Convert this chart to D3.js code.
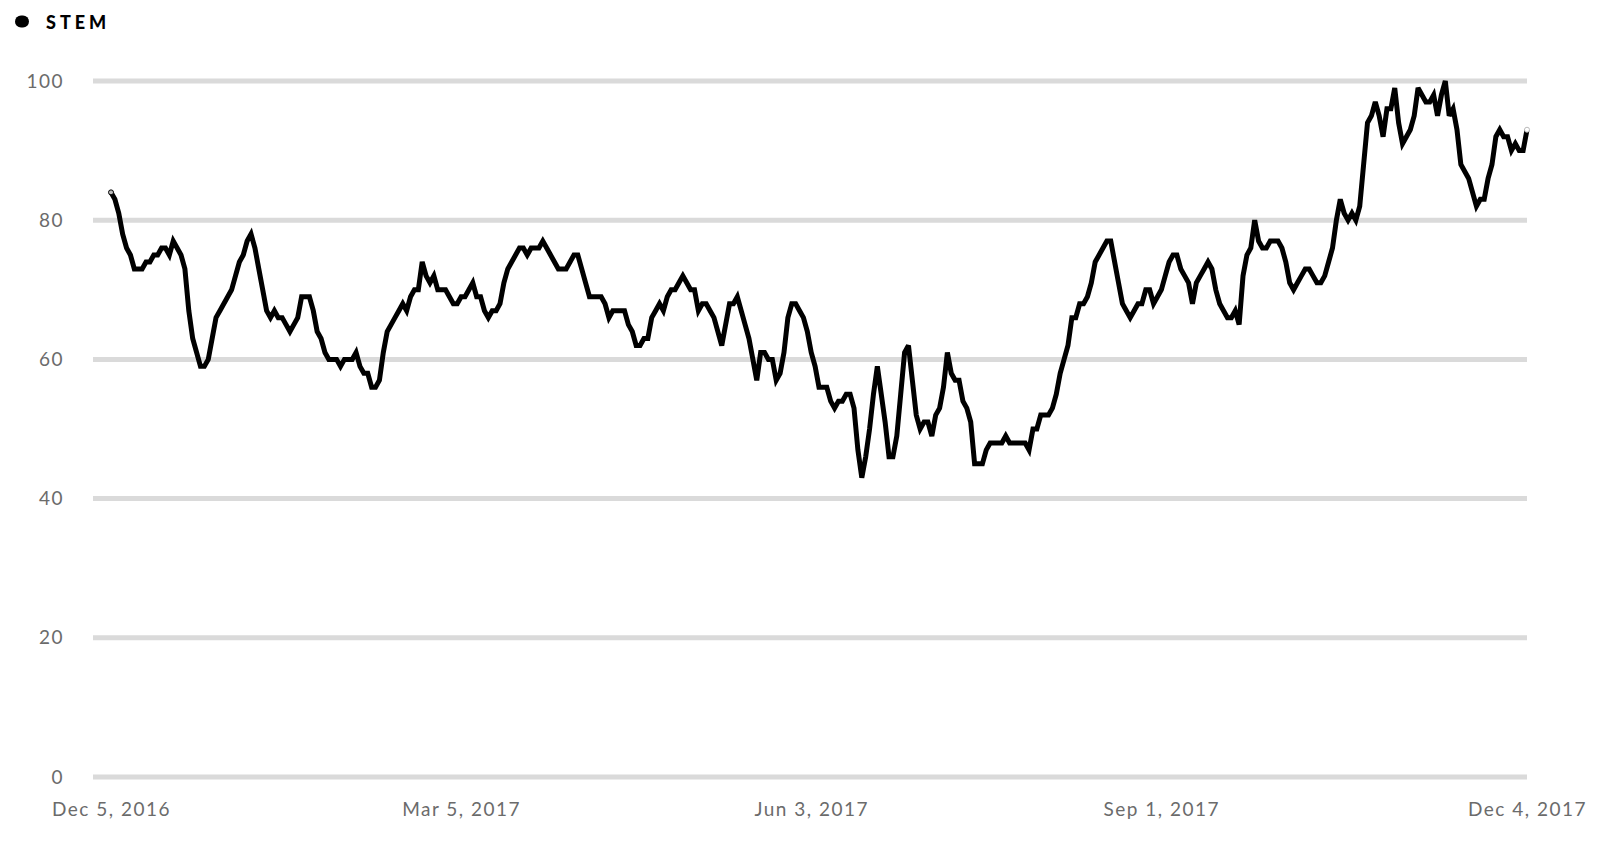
<!DOCTYPE html>
<html>
<head>
<meta charset="utf-8">
<script src="https://cdnjs.cloudflare.com/ajax/libs/d3/7.8.5/d3.min.js"></script>
<style>
  html, body { margin: 0; padding: 0; background: #fff; }
  svg { display: block; }
  text { font-family: Lato, "Open Sans", sans-serif; }
</style>
</head>
<body>
<svg id="chart" width="1612" height="842"></svg>
<script>
// ---- data (daily search interest) ----
const seriesName = "STEM";
const startDate = "2016-12-05";
const values = [
  84,83,81,78,76,75,73,73,73,74,
  74,75,75,76,76,75,77,76,75,73,
  67,63,61,59,59,60,63,66,67,68,
  69,70,72,74,75,77,78,76,73,70,
  67,66,67,66,66,65,64,65,66,69,
  69,69,67,64,63,61,60,60,60,59,
  60,60,60,61,59,58,58,56,56,57,
  61,64,65,66,67,68,67,69,70,70,
  74,72,71,72,70,70,70,69,68,68,
  69,69,70,71,69,69,67,66,67,67,
  68,71,73,74,75,76,76,75,76,76,
  76,77,76,75,74,73,73,73,74,75,
  75,73,71,69,69,69,69,68,66,67,
  67,67,67,65,64,62,62,63,63,66,
  67,68,67,69,70,70,71,72,71,70,
  70,67,68,68,67,66,64,62,65,68,
  68,69,67,65,63,60,57,61,61,60,
  60,57,58,61,66,68,68,67,66,64,
  61,59,56,56,56,54,53,54,54,55,
  55,53,47,43,46,50,55,59,55,51,
  46,46,49,55,61,62,57,52,50,51,
  51,49,52,53,56,61,58,57,57,54,
  53,51,45,45,45,47,48,48,48,48,
  49,48,48,48,48,48,47,50,50,52,
  52,52,53,55,58,60,62,66,66,68,
  68,69,71,74,75,76,77,77,74,71,
  68,67,66,67,68,68,70,70,68,69,
  70,72,74,75,75,73,72,71,68,71,
  72,73,74,73,70,68,67,66,66,67,
  65,72,75,76,80,77,76,76,77,77,
  77,76,74,71,70,71,72,73,73,72,
  71,71,72,74,76,80,83,81,80,81,
  80,82,88,94,95,97,95,92,96,96,
  99,94,91,92,93,95,99,98,97,97,
  98,95,98,100,95,96,93,88,87,86,
  84,82,83,83,86,88,92,93,92,92,
  90,91,90,90,93
];
const yTicks = [0, 20, 40, 60, 80, 100];
const xTickDates = ["2016-12-05", "2017-03-05", "2017-06-03", "2017-09-01", "2017-12-04"];

// ---- build ----
const parse = d3.timeParse("%Y-%m-%d");
const t0 = parse(startDate);
const data = values.map((v, i) => ({ date: d3.timeDay.offset(t0, i), value: v }));

const svg = d3.select("#chart");

const x = d3.scaleTime()
  .domain([data[0].date, data[data.length - 1].date])
  .range([111, 1527]);
const y = d3.scaleLinear().domain([0, 100]).range([777, 81]);

// gridlines
svg.append("g").selectAll("line")
  .data(yTicks)
  .join("line")
  .attr("x1", 93).attr("x2", 1527)
  .attr("y1", d => y(d)).attr("y2", d => y(d))
  .attr("stroke", "#dadada")
  .attr("stroke-width", 5);

// y axis labels
const yAxis = d3.axisLeft(y).tickValues(yTicks).tickSize(0).tickPadding(0).tickFormat(d3.format("d"));
const gy = svg.append("g").attr("transform", "translate(64,0)").call(yAxis);
gy.select(".domain").remove();
gy.selectAll("text")
  .attr("fill", "#6b6b6b")
  .style("font-size", "19px")
  .style("letter-spacing", "1.5px")
  .style("font-family", "Lato, sans-serif");

// x axis labels
const xAxis = d3.axisBottom(x)
  .tickValues(xTickDates.map(parse))
  .tickSize(0).tickPadding(0)
  .tickFormat(d3.timeFormat("%b %-d, %Y"));
const gx = svg.append("g").attr("transform", "translate(0,802)").call(xAxis);
gx.select(".domain").remove();
gx.selectAll("text")
  .attr("fill", "#6b6b6b")
  .style("font-size", "19px")
  .style("letter-spacing", "1.5px")
  .style("font-family", "Lato, sans-serif");

// line
const line = d3.line().x(d => x(d.date)).y(d => y(d.value));
svg.append("path")
  .datum(data)
  .attr("d", line)
  .attr("fill", "none")
  .attr("stroke", "#000")
  .attr("stroke-width", 5)
  .attr("stroke-linejoin", "miter")
  .attr("stroke-miterlimit", 3);

// end markers
const first = data[0], last = data[data.length - 1];
svg.append("circle")
  .attr("cx", x(first.date)).attr("cy", y(first.value)).attr("r", 2.5)
  .attr("fill", "#bbb").attr("stroke", "#000").attr("stroke-width", 1);
svg.append("circle")
  .attr("cx", x(last.date)).attr("cy", y(last.value)).attr("r", 2.5)
  .attr("fill", "#fff").attr("stroke", "#bbb").attr("stroke-width", 1);

// legend
const lg = svg.append("g");
lg.append("rect").attr("x", 15).attr("y", 15.5).attr("width", 14).attr("height", 12).attr("rx", 6).attr("fill", "#000");
lg.append("text")
  .attr("x", 46).attr("y", 28.5)
  .attr("fill", "#000")
  .style("font-size", "18px")
  .style("font-weight", "900")
  .style("letter-spacing", "4px")
  .text(seriesName);
</script>
</body>
</html>
